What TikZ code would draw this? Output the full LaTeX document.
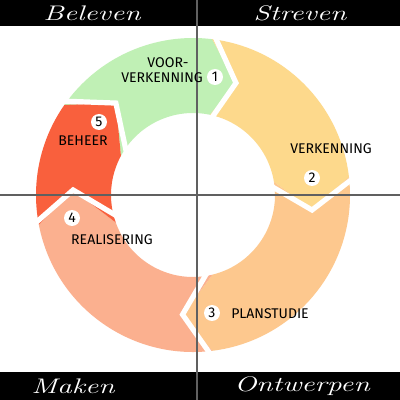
\documentclass[tikz,border=0pt]{standalone}
\usepackage{fontspec}
\newfontfamily\handfont{Fira Sans}
\definecolor{cgreen}{HTML}{C0F0B5}
\definecolor{cyellow}{HTML}{FDD98C}
\definecolor{corange}{HTML}{FDC88E}
\definecolor{csalmon}{HTML}{FBB08F}
\definecolor{cred}{HTML}{F9603D}
\definecolor{cgrid}{HTML}{606060}
\def\ringR{157}
\def\ringr{82}
\def\ringm{120}
\def\ringRx{164}
\def\ringrx{74}
\newcommand\ringseg[7]{\fill[#1] (#2:\ringR) -- (#3:\ringm) -- (#4:\ringr) arc[start angle=#4,end angle=#7,radius=\ringr] -- (#6:\ringm) -- (#5:\ringR) arc[start angle=#5,end angle=#2,radius=\ringR] -- cycle;}
\newcommand\gapline[3]{\draw[gapstyle] (#1:\ringRx) -- (#2:\ringm) -- (#3:\ringrx);}
\tikzset{
  gapstyle/.style={white,line width=1.3mm,line join=miter},
  gridline/.style={cgrid,line width=0.3mm},
  band/.style={fill=black},
  bandtext/.style={white,font=\fontsize{15}{15}\selectfont\itshape,xscale=1.4},
  lbl/.style={black,font=\handfont\fontsize{10}{10}\selectfont,inner sep=0pt},
  num/.style={circle,fill=white,minimum size=4mm,inner sep=0pt,font=\handfont\fontsize{10}{10}\selectfont}
}
\begin{document}
\begin{tikzpicture}[x=0.25mm,y=0.25mm]
\useasboundingbox (0,0) rectangle (400,400);
\fill[white] (0,0) rectangle (400,400);
% ring
\begin{scope}[shift={(193,205)}]
  \ringseg{cgreen}{145}{130}{151.5}{83}{69}{78}
  \ringseg{cyellow}{83}{69}{78}{6.6}{-7.2}{9.2}
  \ringseg{corange}{6.6}{-7.2}{9.2}{-83}{-95}{-76.3}
  \ringseg{csalmon}{-83}{-95}{-76.3}{-169.1}{-182.4}{-160.4}
  \ringseg{cred}{-169.1}{-182.4}{-160.4}{-215}{-230}{-208.5}
  \gapline{83}{69}{78}
  \gapline{6.6}{-7.2}{9.2}
  \gapline{-83}{-95}{-76.3}
  \gapline{-169.1}{-182.4}{-160.4}
  \gapline{145}{130}{151.5}
\end{scope}
% bands
\fill[band] (0,374) rectangle (400,400);
\fill[band] (0,0) rectangle (400,28);
% grid lines
\coordinate (vtop) at (197,400);
\coordinate (vbot) at (197,0);
\coordinate (hleft) at (0,205);
\coordinate (hright) at (400,205);
\draw[gridline] (vtop) -- (vbot);
\draw[gridline] (hleft) -- (hright);
% band texts
\node[bandtext] (beleven) at (92,387) {Beleven};
\node[bandtext] (streven) at (300,387) {Streven};
\node[bandtext] (maken) at (73,14) {Maken};
\node[bandtext] (ontwerpen) at (302,14) {Ontwerpen};
% labels
\node[lbl] (l1a) at (168,337) {VOOR-};
\node[lbl] (l1b) at (162,322) {VERKENNING};
\node[num] (n1) at (215,323) {1};
\node[lbl] (l2) at (331,251) {VERKENNING};
\node[num] (n2) at (312,222) {2};
\node[lbl] (l3) at (270,86) {PLANSTUDIE};
\node[num] (n3) at (212,87) {3};
\node[lbl] (l4) at (112,160) {REALISERING};
\node[num] (n4) at (72,182) {4};
\node[lbl] (l5) at (83,259) {BEHEER};
\node[num] (n5) at (99,278) {5};
\end{tikzpicture}
\end{document}
